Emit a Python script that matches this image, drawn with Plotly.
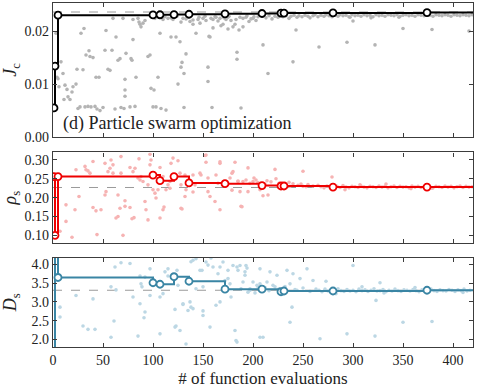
import plotly.graph_objects as go

N_EVALS = 420

# best-so-far (improvement) evaluations
best_x = [1, 2, 5, 100, 107, 121, 136, 172, 209, 228, 231, 280, 374]
best_J = [0.0055, 0.0134, 0.0230, 0.02305, 0.02308, 0.02312, 0.02318, 0.02326, 0.02332, 0.02338, 0.02340, 0.02343, 0.02350]
best_rho = [0.256, 0.100, 0.256, 0.260, 0.245, 0.256, 0.239, 0.237, 0.232, 0.231, 0.231, 0.228, 0.228]
best_D = [1.50, 4.60, 3.65, 3.51, 3.47, 3.67, 3.55, 3.34, 3.34, 3.27, 3.29, 3.29, 3.31]

# reference values (dashed lines)
ref_J = 0.0236
ref_rho = 0.227
ref_D = 3.31

# all evaluations, top panel
J_x = [3, 4, 5, 6, 8, 10, 11, 12, 14, 15, 17, 19, 20, 23, 24, 25, 27, 28, 30, 31,
       32, 33, 35, 36, 37, 38, 40, 42, 43, 44, 46, 47, 50, 52, 53, 55, 57, 59, 60, 62,
       63, 65, 67, 68, 70, 71, 72, 72, 72, 73, 77, 78, 79, 80, 80, 82, 83, 85, 86, 87,
       88, 90, 92, 95, 97, 98, 100, 101, 102, 103, 105, 107, 108, 110, 113, 115, 118, 120, 123, 125,
       127, 128, 129, 130, 131, 131, 133, 135, 137, 140, 143, 145, 147, 150, 153, 155, 155, 156, 157, 159,
       160, 163, 165, 167, 170, 173, 175, 178, 180, 184, 184, 186, 188, 190, 193, 196, 200, 203, 205, 210,
       215, 240, 266, 168, 175, 182, 190, 160, 140, 128, 243, 112, 118, 124, 133, 146, 152, 158, 162, 171,
       176, 183, 187, 194, 198, 201,
       210, 213, 216, 219, 222, 225, 227, 230, 233, 236, 238, 241, 244, 246, 249, 252, 255, 257, 260, 262,
       265, 268, 271, 273, 276, 279, 282, 285, 287, 290, 293, 296, 299, 302, 305, 308, 311, 314, 317, 320,
       323, 326, 329, 332, 335, 338, 341, 344, 347, 350, 353, 356, 359, 362, 365, 368, 371, 374, 377, 380,
       383, 386, 389, 392, 395, 398, 401, 404, 407, 410, 413, 416, 419,
       300, 294, 322, 350, 379, 416, 297, 318, 346]
J_y = [0.0196, 0.0113, 0.0110, 0.0095, 0.0142, 0.0120, 0.0071, 0.0098, 0.0090, 0.0076, 0.0071, 0.0085, 0.0095, 0.0100, 0.0128, 0.0054, 0.0057, 0.0196, 0.0127, 0.0205,
       0.0057, 0.0155, 0.0058, 0.0163, 0.0152, 0.0057, 0.0150, 0.0058, 0.0113, 0.0053, 0.0113, 0.0050, 0.0056, 0.0164, 0.0201, 0.0128, 0.0126, 0.0164, 0.0224, 0.0053,
       0.0189, 0.0145, 0.0148, 0.0056, 0.0224, 0.0054, 0.0109, 0.0089, 0.0077, 0.0158, 0.0057, 0.0148, 0.0145, 0.0222, 0.0184, 0.0058, 0.0113, 0.0224, 0.0217, 0.0213,
       0.0208, 0.0215, 0.0220, 0.0152, 0.0155, 0.0092, 0.0057, 0.0089, 0.0224, 0.0057, 0.0113, 0.0196, 0.0054, 0.0222, 0.0051, 0.0224, 0.0189, 0.0222, 0.0189, 0.0100,
       0.0180, 0.0132, 0.0141, 0.0224, 0.0120, 0.0056, 0.0157, 0.0226, 0.0218, 0.0221, 0.0196, 0.0222, 0.0215, 0.0224, 0.0220, 0.0132, 0.0105, 0.0190, 0.0189, 0.0056,
       0.0222, 0.0226, 0.0219, 0.0224, 0.0213, 0.0222, 0.0226, 0.0220, 0.0208, 0.0160, 0.0147, 0.0202, 0.0055, 0.0224, 0.0226, 0.0218, 0.0224, 0.0220, 0.0227, 0.0174,
       0.0120, 0.0142, 0.0170, 0.0210, 0.0204, 0.0213, 0.0208, 0.0206, 0.0213, 0.0217, 0.0202, 0.0227, 0.0225, 0.0228, 0.0223, 0.0226, 0.0228, 0.0224, 0.0227, 0.0225,
       0.0228, 0.0222, 0.0226, 0.0229, 0.0223, 0.0227,
       0.0228, 0.0225, 0.0229, 0.0223, 0.0228, 0.0226, 0.0230, 0.0227, 0.0229, 0.0224, 0.0228, 0.0230, 0.0226, 0.0229, 0.0227, 0.0230, 0.0228, 0.0225, 0.0229, 0.0231,
       0.0227, 0.0230, 0.0228, 0.0231, 0.0229, 0.0227, 0.0230, 0.0228, 0.0231, 0.0229, 0.0230, 0.0227, 0.0231, 0.0229, 0.0230, 0.0228, 0.0231, 0.0229, 0.0230, 0.0227,
       0.0231, 0.0229, 0.0230, 0.0228, 0.0231, 0.0230, 0.0229, 0.0231, 0.0228, 0.0230, 0.0231, 0.0229, 0.0230, 0.0228, 0.0231, 0.0230, 0.0229, 0.0231, 0.0230, 0.0228,
       0.0231, 0.0230, 0.0229, 0.0231, 0.0230, 0.0228, 0.0231, 0.0230, 0.0229, 0.0231, 0.0230, 0.0229, 0.0231,
       0.0219, 0.0179, 0.0174, 0.0205, 0.0203, 0.0200, 0.0226, 0.0225, 0.0226]

# all evaluations, middle panel
rho_x = [7, 13, 13, 19, 22, 23, 26, 32, 33, 35, 37, 40, 40, 43, 44, 48, 52, 52, 53, 55,
         57, 58, 60, 60, 63, 65, 65, 67, 68, 68, 70, 72, 72, 77, 77, 79, 80, 81, 82, 85,
         86, 87, 88, 90, 92, 93, 95, 95, 97, 97, 98, 100, 102, 103, 105, 107, 107, 110, 110, 111,
         113, 115, 117, 117, 118, 120, 125, 127, 128, 128, 129, 132, 132, 133, 140, 140, 142, 147, 148, 152,
         153, 153, 155, 155, 157, 162, 163, 165, 167, 167, 167, 173, 177, 179, 179, 180, 182, 185, 185, 187,
         188, 189, 190, 193, 195, 195, 197, 200, 203, 207, 210, 215, 222, 223, 237, 250, 250, 279, 379,
         205, 212, 218, 226, 232, 240, 245, 255, 260, 265, 201, 214, 229, 236, 248, 253,
         268, 271, 274, 277, 281, 284, 287, 290, 293, 296, 299, 302, 305, 308, 311, 314, 317, 320, 323, 326,
         329, 332, 335, 338, 341, 344, 347, 350, 353, 356, 359, 362, 365, 368, 371, 374, 377, 380, 383, 386,
         389, 392, 395, 398, 401, 404, 407, 410, 413, 416, 419, 292, 307, 333, 358]
rho_y = [0.111, 0.181, 0.137, 0.095, 0.168, 0.274, 0.203, 0.283, 0.274, 0.271, 0.265, 0.296, 0.174, 0.165, 0.102, 0.168, 0.291, 0.207, 0.216, 0.269,
         0.278, 0.300, 0.287, 0.265, 0.146, 0.150, 0.207, 0.172, 0.309, 0.265, 0.100, 0.177, 0.192, 0.280, 0.174, 0.144, 0.269, 0.147, 0.278, 0.252,
         0.303, 0.247, 0.256, 0.243, 0.190, 0.168, 0.234, 0.141, 0.315, 0.287, 0.300, 0.221, 0.212, 0.199, 0.221, 0.280, 0.146, 0.256, 0.168, 0.175,
         0.221, 0.234, 0.243, 0.225, 0.291, 0.305, 0.298, 0.265, 0.234, 0.172, 0.170, 0.260, 0.203, 0.221, 0.260, 0.215, 0.234, 0.265, 0.260, 0.312,
         0.313, 0.294, 0.216, 0.252, 0.203, 0.190, 0.260, 0.238, 0.291, 0.168, 0.295, 0.234, 0.252, 0.265, 0.220, 0.269, 0.294, 0.243, 0.244, 0.216,
         0.177, 0.176, 0.243, 0.247, 0.216, 0.279, 0.238, 0.243, 0.247, 0.221, 0.205, 0.207, 0.275, 0.250, 0.230, 0.270, 0.230, 0.255, 0.225,
         0.240, 0.236, 0.242, 0.238, 0.234, 0.237, 0.233, 0.235, 0.231, 0.233, 0.252, 0.245, 0.228, 0.241, 0.236, 0.229,
         0.229, 0.226, 0.231, 0.228, 0.225, 0.230, 0.227, 0.232, 0.228, 0.226, 0.230, 0.229, 0.227, 0.231, 0.228, 0.226, 0.230, 0.229, 0.227, 0.231,
         0.228, 0.230, 0.226, 0.229, 0.231, 0.227, 0.230, 0.228, 0.229, 0.226, 0.231, 0.228, 0.230, 0.227, 0.229, 0.231, 0.228, 0.226, 0.230, 0.229,
         0.227, 0.231, 0.228, 0.230, 0.226, 0.229, 0.231, 0.227, 0.230, 0.228, 0.229, 0.221, 0.234, 0.236, 0.224]

# all evaluations, bottom panel
D_x = [7, 7, 23, 30, 35, 40, 42, 58, 58, 61, 62, 63, 68, 77, 80, 85, 87, 87, 88, 89,
       91, 92, 92, 97, 97, 107, 107, 110, 112, 115, 115, 122, 122, 123, 124, 125, 127, 130, 130, 133,
       135, 137, 138, 138, 140, 140, 143, 143, 147, 149, 150, 150, 150, 153, 155, 157, 158, 160, 163, 165,
       167, 167, 170, 172, 175, 175, 177, 178, 180, 182, 183, 184, 184, 185, 187, 188, 190, 192, 192, 193,
       194, 195, 197, 197, 200, 202, 204, 205, 207, 207, 207, 210, 214, 217, 222, 224, 234, 237, 237, 239,
       240, 244, 247, 254, 260, 267, 273, 294, 300, 322, 323, 327, 350, 379,
       212, 216, 220, 226, 229, 232, 242, 250, 257, 263,
       266, 269, 272, 275, 278, 282, 285, 288, 291, 294, 297, 300, 303, 306, 309, 312, 315, 318, 321, 324,
       327, 330, 333, 336, 339, 342, 345, 348, 351, 354, 357, 360, 363, 366, 369, 372, 375, 378, 381, 384,
       387, 390, 393, 396, 399, 402, 405, 408, 411, 414, 417, 283, 309, 331, 362, 410]
D_y = [2.86, 2.60, 3.17, 2.36, 2.27, 3.08, 2.27, 3.40, 2.06, 2.49, 3.93, 3.32, 4.04, 4.02, 3.13, 2.09, 3.69, 2.95, 3.48, 3.40,
       2.58, 3.66, 2.73, 3.88, 3.17, 3.13, 2.15, 3.22, 3.80, 3.88, 3.69, 2.80, 2.33, 2.36, 3.84, 3.44, 2.24, 2.93, 2.95, 1.88,
       2.77, 3.00, 4.07, 2.86, 4.11, 2.82, 4.15, 3.35, 3.84, 3.84, 3.40, 2.76, 2.64, 4.06, 3.98, 2.33, 4.17, 3.93, 2.91, 3.75,
       3.93, 3.00, 4.06, 3.57, 3.62, 3.84, 3.48, 3.13, 3.97, 2.24, 1.97, 3.93, 1.93, 3.84, 3.97, 3.35, 3.53, 3.80, 3.71, 3.97,
       3.90, 3.26, 3.35, 3.31, 3.53, 3.24, 3.44, 3.40, 3.88, 3.48, 2.06, 2.06, 3.53, 3.80, 3.40, 3.71, 3.84, 3.48, 2.46, 2.86,
       3.75, 3.31, 3.62, 3.88, 3.57, 2.02, 3.55, 2.15, 3.97, 2.09, 3.04, 3.51, 2.46, 2.48,
       3.38, 3.30, 3.44, 3.35, 3.29, 3.41, 3.33, 3.37, 3.28, 3.34,
       3.31, 3.27, 3.34, 3.29, 3.32, 3.26, 3.35, 3.30, 3.28, 3.33, 3.29, 3.31, 3.27, 3.34, 3.30, 3.32, 3.28, 3.31, 3.35, 3.29,
       3.30, 3.33, 3.27, 3.31, 3.29, 3.34, 3.30, 3.28, 3.32, 3.31, 3.29, 3.33, 3.30, 3.27, 3.32, 3.31, 3.29, 3.34, 3.30, 3.28,
       3.32, 3.30, 3.29, 3.33, 3.31, 3.28, 3.32, 3.30, 3.34, 3.29, 3.31, 3.22, 3.40, 3.24, 3.38, 3.25]

FONT = "Liberation Serif"
AXIS_COL = "#3c3c3c"

panels = [
    # (scatter x, scatter y, best y, ref, dot color, line color, y range, tick values, tick fmt, title)
    (J_x, J_y, best_J, ref_J, "#b4b4b4", "#000000", [0, 0.0253], [0, 0.01, 0.02], ".2f",
     "<i>J</i><sub>c</sub>"),
    (rho_x, rho_y, best_rho, ref_rho, "#f6b3b3", "#ee0000", [0.08, 0.32],
     [0.10, 0.15, 0.20, 0.25, 0.30], ".2f", "<i>ρ</i><sub>s</sub>"),
    (D_x, D_y, best_D, ref_D, "#bcd7e4", "#3a85a4", [1.8, 4.18],
     [2.0, 2.5, 3.0, 3.5, 4.0], ".1f", "<i>D</i><sub>s</sub>"),
]

domains = [[0.6101, 1.0], [0.3026, 0.5656], [0.0, 0.260]]

fig = go.Figure()

for i, (sx, sy, by, ref, dcol, lcol, yr, tv, fmt, title) in enumerate(panels):
    n = "" if i == 0 else str(i + 1)
    xa, ya = "x" + n, "y" + n

    # dashed reference value
    fig.add_trace(go.Scatter(x=[0, N_EVALS], y=[ref, ref], mode="lines",
                             line=dict(color="#9a9a9a", width=1, dash="dash"),
                             xaxis=xa, yaxis=ya, showlegend=False, hoverinfo="skip"))
    # every evaluation
    fig.add_trace(go.Scatter(x=sx, y=sy, mode="markers",
                             marker=dict(color=dcol, size=3.6, line=dict(width=0)),
                             xaxis=xa, yaxis=ya, showlegend=False))
    # best so far, step line
    fig.add_trace(go.Scatter(x=best_x + [N_EVALS], y=by + [by[-1]], mode="lines",
                             line=dict(color=lcol, width=2, shape="hv"),
                             xaxis=xa, yaxis=ya, showlegend=False))
    # improvements
    fig.add_trace(go.Scatter(x=best_x, y=by, mode="markers",
                             marker=dict(color="white", size=7, line=dict(color=lcol, width=1.8)),
                             xaxis=xa, yaxis=ya, showlegend=False))

    common = dict(showline=True, linecolor=AXIS_COL, linewidth=1.2, mirror="ticks",
                  ticks="inside", ticklen=4, tickcolor=AXIS_COL, tickwidth=1,
                  showgrid=False, zeroline=False, automargin=False,
                  tickfont=dict(family=FONT, size=14, color="#222"))
    fig.layout["xaxis" + n] = dict(common, domain=[0, 1], range=[0, N_EVALS],
                                   tickvals=[0, 50, 100, 150, 200, 250, 300, 350, 400],
                                   showticklabels=(i == 2),
                                   anchor=ya, matches=None if i == 0 else "x")
    fig.layout["yaxis" + n] = dict(common, domain=domains[i], range=yr, tickvals=tv,
                                   tickformat=fmt, anchor=xa,
                                   title=dict(text=title, font=dict(family=FONT, size=18, color="#222")))

fig.layout.xaxis3.title = dict(text="# of function evaluations",
                               font=dict(family=FONT, size=17, color="#222"))

fig.add_annotation(text="(d) Particle swarm optimization", xref="x domain", yref="y domain",
                   x=0.02, y=0.1, xanchor="left", yanchor="middle", showarrow=False,
                   font=dict(family=FONT, size=18, color="#222"))

fig.update_layout(width=480, height=388, margin=dict(l=53, r=7, t=3, b=41),
                  paper_bgcolor="white", plot_bgcolor="white", hovermode=False,
                  font=dict(family=FONT, color="#222"))

# the page's default body margin would shift the figure by 8px
fig.write_html("out.html", config={"displayModeBar": False},
               post_script="document.body.style.margin='0';document.body.style.overflow='hidden';")
